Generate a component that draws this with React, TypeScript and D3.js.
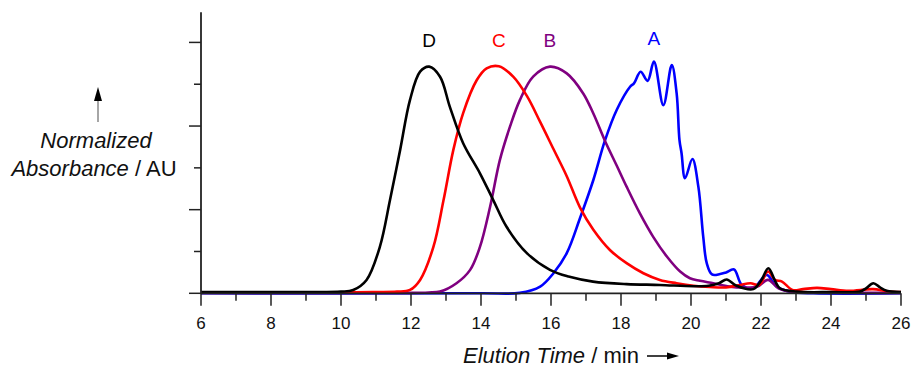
import React from "react";
import * as d3 from "d3";

// Elution time (min) vs normalized absorbance (axis units)
const curveA: [number, number][] = [
  [6, 0], [14, 0], [15.11, 0.01], [15.69, 0.16], [16.07, 0.48], [16.45, 0.96], [16.83, 1.8],
  [17.21, 2.71], [17.54, 3.65], [17.88, 4.39], [18.26, 4.94], [18.37, 5.02], [18.56, 5.3],
  [18.76, 5.08], [18.94, 5.54], [19.21, 4.5], [19.45, 5.46], [19.59, 4.78], [19.67, 3.67],
  [19.73, 3.35], [19.83, 2.75], [20.04, 3.21], [20.21, 2.55], [20.35, 1.35], [20.45, 0.72],
  [20.6, 0.45], [20.83, 0.46], [21.0, 0.5], [21.23, 0.57], [21.45, 0.2], [21.78, 0.12],
  [22.16, 0.44], [22.45, 0.16], [22.83, 0.04], [23.5, 0], [26, 0],
];
const curveB: [number, number][] = [
  [6, 0.01], [12, 0.01], [12.5, 0.02], [12.83, 0.04], [13.3, 0.24], [13.69, 0.56], [13.97, 1.11],
  [14.26, 2.07], [14.54, 3.19], [14.83, 3.99], [15.11, 4.62], [15.49, 5.18], [15.97, 5.42],
  [16.45, 5.26], [16.92, 4.78], [17.21, 4.3], [17.54, 3.65], [17.88, 3.05], [18.16, 2.55],
  [18.54, 1.91], [18.92, 1.35], [19.31, 0.88], [19.69, 0.52], [19.97, 0.36], [20.26, 0.3],
  [20.64, 0.24], [21.1, 0.16], [21.6, 0.14], [21.9, 0.16], [22.2, 0.32], [22.5, 0.12],
  [22.85, 0.04], [23.5, 0.02], [26, 0.01],
];
const curveC: [number, number][] = [
  [6, 0.02], [10, 0.02], [11, 0.03], [11.6, 0.04], [11.97, 0.08], [12.26, 0.32], [12.64, 1.11],
  [12.93, 2.23], [13.21, 3.43], [13.49, 4.31], [13.88, 5.1], [14.16, 5.38], [14.51, 5.43],
  [14.92, 5.18], [15.31, 4.72], [15.69, 4.1], [16.07, 3.45], [16.45, 2.8], [16.83, 2.05],
  [17.21, 1.52], [17.69, 1.03], [18.16, 0.72], [18.64, 0.48], [19.11, 0.32], [19.59, 0.24],
  [20.07, 0.18], [20.54, 0.15], [21.0, 0.14], [21.4, 0.2], [21.7, 0.24], [21.95, 0.2],
  [22.2, 0.52], [22.4, 0.32], [22.6, 0.28], [22.9, 0.08], [23.2, 0.1], [23.6, 0.13],
  [24.0, 0.1], [24.5, 0.06], [25.2, 0.1], [25.6, 0.05], [26, 0.03],
];
const curveD: [number, number][] = [
  [6, 0.03], [8, 0.03], [9, 0.03], [10, 0.04], [10.35, 0.08], [10.73, 0.32], [11.11, 1.11],
  [11.4, 2.23], [11.69, 3.43], [11.97, 4.62], [12.26, 5.3], [12.52, 5.42], [12.83, 5.18],
  [13.11, 4.46], [13.49, 3.59], [13.97, 2.87], [14.35, 2.23], [14.73, 1.59], [15.31, 0.96],
  [15.97, 0.56], [16.5, 0.4], [17.2, 0.28], [18.16, 0.22], [19.11, 0.2], [20.07, 0.17],
  [20.5, 0.18], [20.8, 0.24], [21.02, 0.33], [21.3, 0.18], [21.78, 0.1], [22.0, 0.3],
  [22.21, 0.6], [22.4, 0.3], [22.54, 0.12], [23.02, 0.04], [24, 0.03], [24.83, 0.04],
  [25.0, 0.12], [25.21, 0.24], [25.4, 0.14], [25.59, 0.06], [26, 0.03],
];

const seriesNames = ["A", "B", "C", "D"];
const seriesColors = ["#0000ff", "#800080", "#ff0000", "#000000"];
const seriesData = [curveA, curveB, curveC, curveD];
const labelTimes = [18.94, 15.97, 14.51, 12.52];

const xMajorTicks = [6, 8, 10, 12, 14, 16, 18, 20, 22, 24, 26];
const xMinorTicks = [7, 9, 11, 13, 15, 17, 19, 21, 23, 25];
const yMajorTicks = [0, 2, 4, 6];
const yMinorTicks = [1, 3, 5];

const FONT = "'Liberation Sans', Arial, sans-serif";

export default function App() {
  const x = d3.scaleLinear().domain([6, 26]).range([201, 901]);
  const y = d3.scaleLinear().domain([0, 6.72]).range([293.3, 12.3]);
  const line = d3
    .line<[number, number]>()
    .x((d) => x(d[0]))
    .y((d) => y(Math.max(0, d[1])))
    .curve(d3.curveCatmullRom.alpha(0.5));
  const axisColor = "#222";

  return (
    <svg
      width={915}
      height={370}
      style={{ position: "absolute", left: 0, top: 0, background: "#fff" }}
      fontFamily={FONT}
    >
      {/* curves */}
      {seriesData.map((s, i) => (
        <path
          key={seriesNames[i]}
          d={line(s) || ""}
          fill="none"
          stroke={seriesColors[i]}
          strokeWidth={2.6}
          strokeLinejoin="round"
        />
      ))}

      {/* axes */}
      <line x1={x(6)} x2={x(6)} y1={y(6.72)} y2={y(0)} stroke={axisColor} strokeWidth={1.8} />
      <line x1={x(6)} x2={x(26)} y1={y(0)} y2={y(0)} stroke={axisColor} strokeWidth={1.8} />
      {yMajorTicks.map((t) => (
        <line key={"ym" + t} x1={x(6) - 12} x2={x(6)} y1={y(t)} y2={y(t)} stroke={axisColor} strokeWidth={1.5} />
      ))}
      {yMinorTicks.map((t) => (
        <line key={"yn" + t} x1={x(6) - 7} x2={x(6)} y1={y(t)} y2={y(t)} stroke={axisColor} strokeWidth={1.5} />
      ))}
      {xMajorTicks.map((t) => (
        <g key={"xm" + t}>
          <line x1={x(t)} x2={x(t)} y1={y(0)} y2={y(0) + 12.5} stroke={axisColor} strokeWidth={1.5} />
          <text x={x(t)} y={329} textAnchor="middle" fontSize={17} fill="#111">
            {t}
          </text>
        </g>
      ))}
      {xMinorTicks.map((t) => (
        <line key={"xn" + t} x1={x(t)} x2={x(t)} y1={y(0)} y2={y(0) + 7.5} stroke={axisColor} strokeWidth={1.5} />
      ))}

      {/* peak labels */}
      {seriesNames.map((n, i) => (
        <text
          key={"lab" + n}
          x={x(labelTimes[i])}
          y={n === "A" ? 45 : 47}
          textAnchor="middle"
          fontSize={19}
          fill={seriesColors[i]}
        >
          {n}
        </text>
      ))}

      {/* y axis title */}
      <line x1={98} x2={98} y1={122} y2={100} stroke="#888" strokeWidth={1.5} />
      <path d="M98,87 L94,101 L102,101 Z" fill="#000" />
      <text x={96} y={148} textAnchor="middle" fontSize={22} fill="#111">
        <tspan fontStyle="italic">Normalized</tspan>
      </text>
      <text x={94} y={176} textAnchor="middle" fontSize={22} fill="#111">
        <tspan fontStyle="italic">Absorbance</tspan>
        <tspan> / AU</tspan>
      </text>

      {/* x axis title */}
      <text x={463} y={363} textAnchor="start" fontSize={22} fill="#111">
        <tspan fontStyle="italic">Elution Time</tspan>
        <tspan> / min</tspan>
      </text>
      <line x1={647} x2={670} y1={356} y2={356} stroke="#000" strokeWidth={1.5} />
      <path d="M679,356 L667,352.5 L667,359.5 Z" fill="#000" />
    </svg>
  );
}
